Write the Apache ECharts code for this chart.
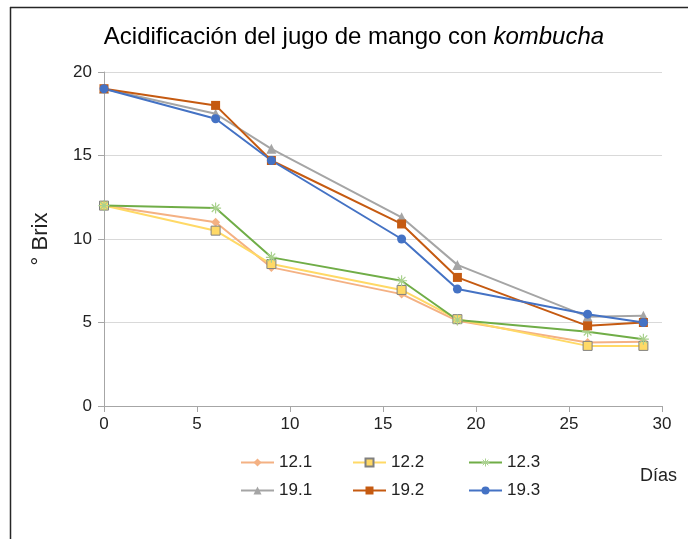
<!DOCTYPE html>
<html>
<head>
<meta charset="utf-8">
<script src="https://cdn.jsdelivr.net/npm/echarts@6/dist/echarts.min.js"></script>
<style>html,body{margin:0;padding:0;background:#fff}#c{width:688px;height:539px}</style>
</head>
<body>
<div id="c"></div>
<script>
const days = [0, 6, 9, 16, 19, 26, 29];
const xTicks = [0, 5, 10, 15, 20, 25, 30];
const yTicks = [0, 5, 10, 15, 20];
const s121 = [12, 11.0, 8.3, 6.7, 5.1, 3.8, 3.85];
const s122 = [12, 10.5, 8.5, 6.95, 5.2, 3.6, 3.6];
const s123 = [12, 11.85, 8.9, 7.5, 5.15, 4.45, 4.0];
const s191 = [19, 17.5, 15.4, 11.3, 8.45, 5.35, 5.4];
const s192 = [19, 18.0, 14.7, 10.9, 7.7, 4.8, 5.0];
const s193 = [19, 17.2, 14.7, 10.0, 7.0, 5.5, 5.0];
const names = ['12.1', '12.2', '12.3', '19.1', '19.2', '19.3'];

const FONT = 'Liberation Sans, Arial, sans-serif';
const star = 'path://M0,-10L0,10M-10,0L10,0M-7,-7L7,7M-7,7L7,-7';
const pair = a => a.map((v, i) => [days[i], v]);

const defs = [
  {name: names[0], data: s121, color: '#F4B183', symbol: 'diamond', size: 9, item: {color: '#F4B183'}},
  {name: names[1], data: s122, color: '#FFD966', symbol: 'rect', size: 9, item: {color: '#FFD966', borderColor: '#808080', borderWidth: 1}},
  {name: names[2], data: s123, color: '#70AD47', symbol: star, size: 11, item: {color: '#A9D18E', borderColor: '#A9D18E', borderWidth: 1.2}},
  {name: names[3], data: s191, color: '#A5A5A5', symbol: 'triangle', size: 10, item: {color: '#A5A5A5'}},
  {name: names[4], data: s192, color: '#C55A11', symbol: 'rect', size: 9, item: {color: '#C55A11'}},
  {name: names[5], data: s193, color: '#4472C4', symbol: 'circle', size: 9, item: {color: '#4472C4'}}
];

const legendPos = [[240, 454], [352, 454], [468, 454], [240, 482], [352, 482], [468, 482]];

const chart = echarts.init(document.getElementById('c'));
chart.setOption({
  animation: false,
  textStyle: {fontFamily: FONT},
  title: {
    text: '{a|Acidificación del jugo de mango con }{b|kombucha}',
    left: 349, textAlign: 'center', top: 20,
    textStyle: {
      rich: {
        a: {fontFamily: FONT, fontSize: 24, color: '#000', fontWeight: 'normal'},
        b: {fontFamily: FONT, fontSize: 24, color: '#000', fontStyle: 'italic', fontWeight: 'normal'}
      }
    }
  },
  legend: defs.map((d, i) => {
    const lg = {
      data: [d.name], left: legendPos[i][0], top: legendPos[i][1],
      padding: 0, itemWidth: 33, itemHeight: 10, itemGap: 0,
      textStyle: {fontFamily: FONT, fontSize: 17, color: '#222'}
    };
    if (i === 2) lg.itemStyle = {color: '#A9D18E', borderColor: '#A9D18E', borderWidth: 1};
    return lg;
  }),
  grid: {left: 104, right: 26, top: 72, bottom: 133},
  xAxis: {
    type: 'value', min: 0, max: 30, interval: 5,
    axisLine: {show: true, lineStyle: {color: '#A6A6A6', width: 1}},
    axisTick: {show: true, length: 6, inside: false, lineStyle: {color: '#A6A6A6'}},
    splitLine: {show: false},
    axisLabel: {fontSize: 17, color: '#222', margin: 10, fontFamily: FONT, customValues: xTicks}
  },
  yAxis: {
    type: 'value', min: 0, max: 20, interval: 5,
    name: '° Brix', nameLocation: 'middle', nameGap: 52, nameRotate: 90,
    nameTextStyle: {fontSize: 22, color: '#222', fontFamily: FONT},
    axisLine: {show: true, lineStyle: {color: '#A6A6A6', width: 1}},
    axisTick: {show: true, length: 6, lineStyle: {color: '#A6A6A6'}},
    splitLine: {show: true, lineStyle: {color: '#D9D9D9', width: 1}},
    axisLabel: {fontSize: 17, color: '#222', margin: 12, fontFamily: FONT, customValues: yTicks}
  },
  graphic: [
    {type: 'line', shape: {x1: 10, y1: 7.5, x2: 688, y2: 7.5}, style: {stroke: '#262626', lineWidth: 1.5}},
    {type: 'line', shape: {x1: 10.5, y1: 7, x2: 10.5, y2: 539}, style: {stroke: '#262626', lineWidth: 1.5}},
    {type: 'text', left: 640, top: 467, style: {text: 'Días', fontFamily: FONT, fontSize: 18, fill: '#222'}}
  ],
  series: defs.map(d => ({
    name: d.name, type: 'line', data: pair(d.data),
    symbol: d.symbol, symbolSize: d.size, showSymbol: true,
    lineStyle: {color: d.color, width: 2},
    itemStyle: d.item,
    emphasis: {disabled: true}
  }))
});
</script>
</body>
</html>
